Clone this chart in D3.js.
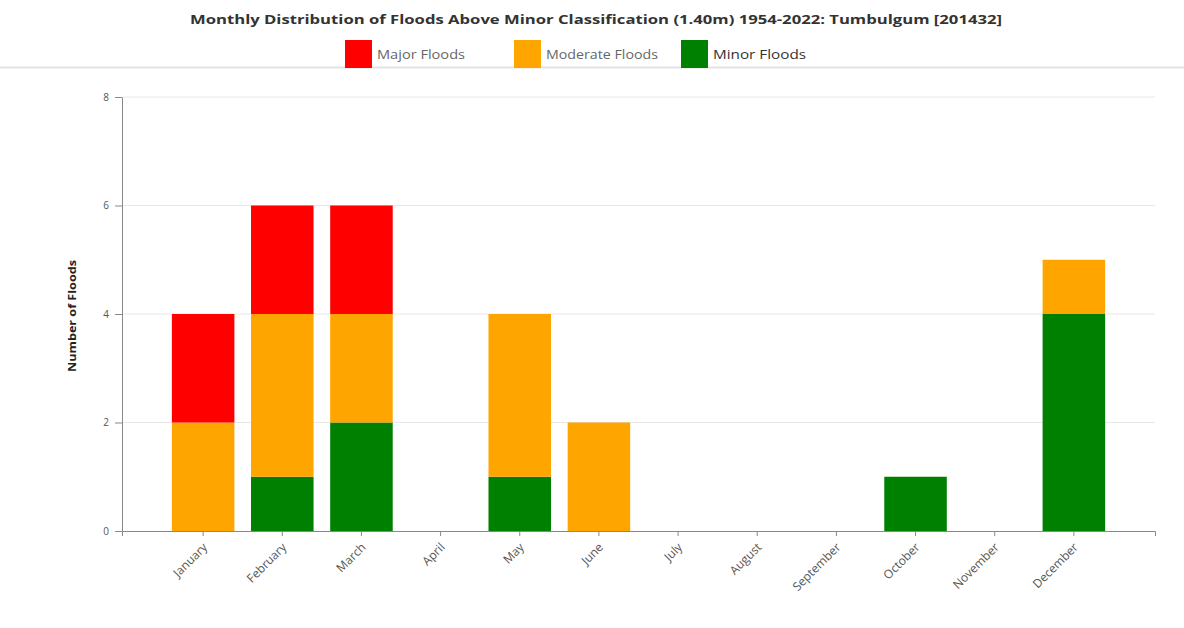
<!DOCTYPE html>
<html>
<head>
<meta charset="utf-8">
<script src="https://cdn.jsdelivr.net/npm/d3@7"></script>
<style>
  html, body { margin: 0; padding: 0; background: #fff; }
  svg { display: block; }
</style>
</head>
<body>
<svg id="chart" width="1184" height="628"></svg>
<script>
// Monthly flood counts by class, Tumbulgum 1954-2022
const months = ["January", "February", "March", "April", "May", "June",
  "July", "August", "September", "October", "November", "December"];
const minorFloods    = [0, 1, 2, 0, 1, 0, 0, 0, 0, 1, 0, 4];
const moderateFloods = [2, 3, 2, 0, 3, 2, 0, 0, 0, 0, 0, 1];
const majorFloods    = [2, 2, 2, 0, 0, 0, 0, 0, 0, 0, 0, 0];
const yTicks = [0, 2, 4, 6, 8];
const seriesNames = ["Minor Floods", "Moderate Floods", "Major Floods"];
const seriesColors = { "Major Floods": "#ff0000", "Moderate Floods": "#ffa500", "Minor Floods": "#008000" };
const legendOrder = ["Major Floods", "Moderate Floods", "Minor Floods"];
const titleText = "Monthly Distribution of Floods Above Minor Classification (1.40m) 1954-2022: Tumbulgum [201432]";

const rows = months.map((m, i) => ({
  month: m,
  "Minor Floods": minorFloods[i],
  "Moderate Floods": moderateFloods[i],
  "Major Floods": majorFloods[i]
}));

const svg = d3.select("#chart");
const font = "'Open Sans', 'Liberation Sans', sans-serif";

// Header separator
svg.append("rect").attr("x", 0).attr("y", 66).attr("width", 1184).attr("height", 3).attr("fill", "#f0f0f0");
svg.append("rect").attr("x", 0).attr("y", 67).attr("width", 1184).attr("height", 1).attr("fill", "#e4e4e4");

// Title
svg.append("text")
  .attr("x", 596).attr("y", 24)
  .attr("text-anchor", "middle")
  .attr("font-family", font)
  .attr("font-weight", "bold")
  .attr("font-size", 13)
  .attr("fill", "#333")
  .attr("textLength", 812)
  .attr("lengthAdjust", "spacingAndGlyphs")
  .text(titleText);

// Legend
const legendX = { "Major Floods": 345, "Moderate Floods": 514, "Minor Floods": 681 };
const legendTextW = { "Major Floods": 88, "Moderate Floods": 112, "Minor Floods": 93 };
const leg = svg.append("g");
legendOrder.forEach(name => {
  const g = leg.append("g").attr("transform", `translate(${legendX[name]},40)`);
  g.append("rect").attr("width", 27).attr("height", 28).attr("fill", seriesColors[name]);
  g.append("text")
    .attr("x", 32).attr("y", 19)
    .attr("font-family", font)
    .attr("font-size", name === "Minor Floods" ? 13 : 12)
    .attr("fill", name === "Minor Floods" ? "#333" : "#666")
    .attr("textLength", legendTextW[name])
    .attr("lengthAdjust", "spacingAndGlyphs")
    .text(name);
});

// Plot area bounds
const plotLeft = 122, plotRight = 1155, plotTop = 97, plotBottom = 531;
const x = d3.scaleBand().domain(months).range([plotLeft, plotRight]).paddingInner(0.21).paddingOuter(0.63);
const y = d3.scaleLinear().domain([0, 8]).range([plotBottom, plotTop]);

// Gridlines
svg.append("g")
  .selectAll("line")
  .data(yTicks.filter(t => t > 0))
  .join("line")
  .attr("x1", plotLeft).attr("x2", plotRight)
  .attr("y1", d => y(d)).attr("y2", d => y(d))
  .attr("stroke", "#e8e8e8").attr("stroke-width", 1);

// Stacked bars
const stack = d3.stack().keys(seriesNames)(rows);
svg.append("g")
  .selectAll("g")
  .data(stack)
  .join("g")
  .attr("fill", s => seriesColors[s.key])
  .selectAll("rect")
  .data(s => s.filter(d => d[1] - d[0] > 0))
  .join("rect")
  .attr("x", d => x(d.data.month))
  .attr("width", x.bandwidth())
  .attr("y", d => y(d[1]))
  .attr("height", d => y(d[0]) - y(d[1]));

// Y axis
const yAxis = svg.append("g")
  .attr("transform", `translate(${plotLeft},0)`)
  .call(d3.axisLeft(y).tickValues(yTicks).tickFormat(d3.format("d")).tickSize(7).tickSizeOuter(0));
yAxis.select(".domain").attr("stroke", "#888");
yAxis.selectAll(".tick line").attr("stroke", "#888");
yAxis.selectAll(".tick text")
  .attr("font-family", font).attr("font-size", 10).attr("fill", "#555").attr("x", -13);

// X axis
const xAxis = svg.append("g")
  .attr("transform", `translate(0,${plotBottom})`)
  .call(d3.axisBottom(x).tickSize(5).tickSizeOuter(5));
xAxis.select(".domain").attr("stroke", "#888");
xAxis.selectAll(".tick line").attr("stroke", "#888");
xAxis.selectAll(".tick text")
  .attr("font-family", font).attr("font-size", 12).attr("fill", "#555")
  .attr("text-anchor", "end")
  .attr("transform", "translate(2,14) rotate(-45)")
  .attr("x", 0).attr("y", 0).attr("dy", "0.35em");

// Y axis title
svg.append("text")
  .attr("transform", `translate(76,316) rotate(-90)`)
  .attr("text-anchor", "middle")
  .attr("font-family", font)
  .attr("font-weight", "bold")
  .attr("font-size", 11)
  .attr("fill", "#222")
  .attr("textLength", 112)
  .attr("lengthAdjust", "spacingAndGlyphs")
  .text("Number of Floods");
</script>
</body>
</html>
